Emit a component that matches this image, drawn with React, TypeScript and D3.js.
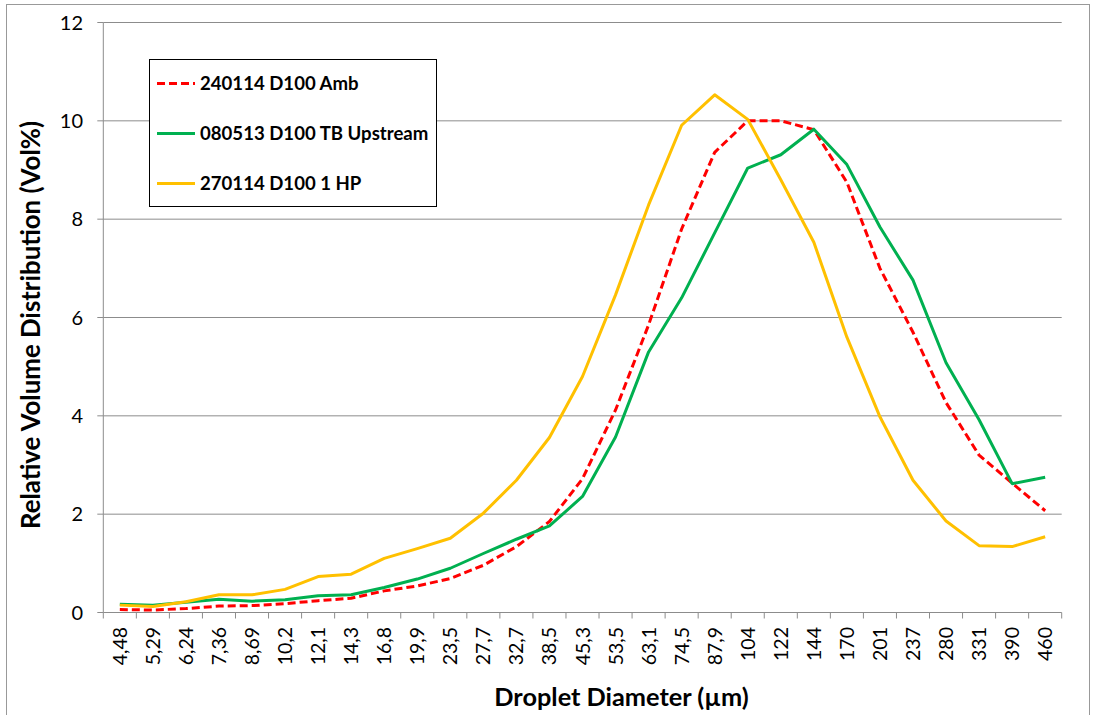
import React from "react";
import * as d3 from "d3";

const categories = ["4,48","5,29","6,24","7,36","8,69","10,2","12,1","14,3","16,8","19,9","23,5","27,7","32,7","38,5","45,3","53,5","63,1","74,5","87,9","104","122","144","170","201","237","280","331","390","460"];

const amb = [0.06,0.05,0.08,0.13,0.14,0.18,0.24,0.29,0.44,0.54,0.69,0.96,1.34,1.85,2.72,4.12,5.85,7.8,9.36,10.0,10.0,9.82,8.75,7.0,5.7,4.27,3.2,2.63,2.07];
const upstream = [0.17,0.15,0.21,0.27,0.23,0.26,0.34,0.36,0.51,0.68,0.9,1.2,1.49,1.76,2.36,3.57,5.3,6.4,7.72,9.04,9.31,9.83,9.11,7.84,6.76,5.08,3.92,2.62,2.75];
const hp = [0.15,0.12,0.22,0.36,0.36,0.47,0.73,0.78,1.1,1.3,1.51,2.02,2.69,3.56,4.8,6.46,8.29,9.91,10.53,10.03,8.8,7.53,5.6,3.98,2.69,1.86,1.36,1.34,1.54];

const yTicks = [0, 2, 4, 6, 8, 10, 12];

const seriesNames = ["240114 D100 Amb", "080513 D100 TB Upstream", "270114 D100 1 HP"];
const seriesColors = ["#FF0000", "#00B050", "#FFC000"];
const seriesDash = ["8,4", null, null];
const seriesData = [amb, upstream, hp];

const FONT = "Lato, 'Open Sans', sans-serif";

export default function App() {
  const W = 1094, H = 715;
  const left = 103.3, right = 1061.7, top = 22.5, bottom = 612.5;
  const x = d3.scaleBand<string>().domain(categories).range([left, right]).padding(0);
  const y = d3.scaleLinear().domain([0, 12]).range([bottom, top]);
  const cx = (c: string) => (x(c) as number) + x.bandwidth() / 2;
  const line = d3.line<number>().x((_, i) => cx(categories[i])).y(d => y(d));
  const gridColor = "#8c8c8c";
  const axisColor = "#8c8c8c";
  const edges = categories.map(c => x(c) as number).concat([right]);

  return (
    <svg width={W} height={H} style={{ position: "absolute", left: 0, top: 0, background: "#fff" }} fontFamily={FONT}>
      <rect x={6.5} y={4.5} width={1083} height={730} fill="#fff" stroke="#999" strokeWidth={1} />
      {yTicks.map(t => (
        <g key={t}>
          {t > 0 && <line x1={left} x2={right} y1={y(t)} y2={y(t)} stroke={gridColor} strokeWidth={1} />}
          <line x1={left - 6} x2={left} y1={y(t)} y2={y(t)} stroke={axisColor} strokeWidth={1} />
          <text x={83} y={y(t)} dy="0.36em" textAnchor="end" fontSize={20} fill="#000">{t}</text>
        </g>
      ))}
      <line x1={left} x2={left} y1={top} y2={bottom} stroke={axisColor} strokeWidth={1} />
      <line x1={left} x2={right} y1={bottom} y2={bottom} stroke={axisColor} strokeWidth={1} />
      {edges.map((e, i) => (
        <line key={i} x1={e} x2={e} y1={bottom} y2={bottom + 6} stroke={axisColor} strokeWidth={1} />
      ))}
      {categories.map(c => (
        <text key={c} transform={`translate(${cx(c) + 7},${627}) rotate(-90)`} textAnchor="end" fontSize={19.5} fill="#000">{c}</text>
      ))}
      {seriesData.map((s, i) => (
        <path key={i} d={line(s) || ""} fill="none" stroke={seriesColors[i]} strokeWidth={3}
          strokeDasharray={seriesDash[i] || undefined} strokeLinejoin="round" />
      ))}
      <text transform={`translate(40,325) rotate(-90)`} textAnchor="middle" fontSize={25.8} fontWeight="bold" fill="#000">Relative Volume Distribution (Vol%)</text>
      <text x={621.5} y={706} textAnchor="middle" fontSize={25.3} fontWeight="bold" fill="#000">Droplet Diameter (µm)</text>
      <rect x={149.5} y={59.5} width={287} height={147} fill="#fff" stroke="#000" strokeWidth={1} />
      {seriesNames.map((n, i) => {
        const ly = 83.5 + i * 50;
        return (
          <g key={n}>
            <line x1={157} x2={195} y1={ly} y2={ly} stroke={seriesColors[i]} strokeWidth={3} strokeDasharray={seriesDash[i] || undefined} />
            <text x={200} y={ly} dy="0.36em" fontSize={18.6} fontWeight="bold" fill="#000">{n}</text>
          </g>
        );
      })}
    </svg>
  );
}
